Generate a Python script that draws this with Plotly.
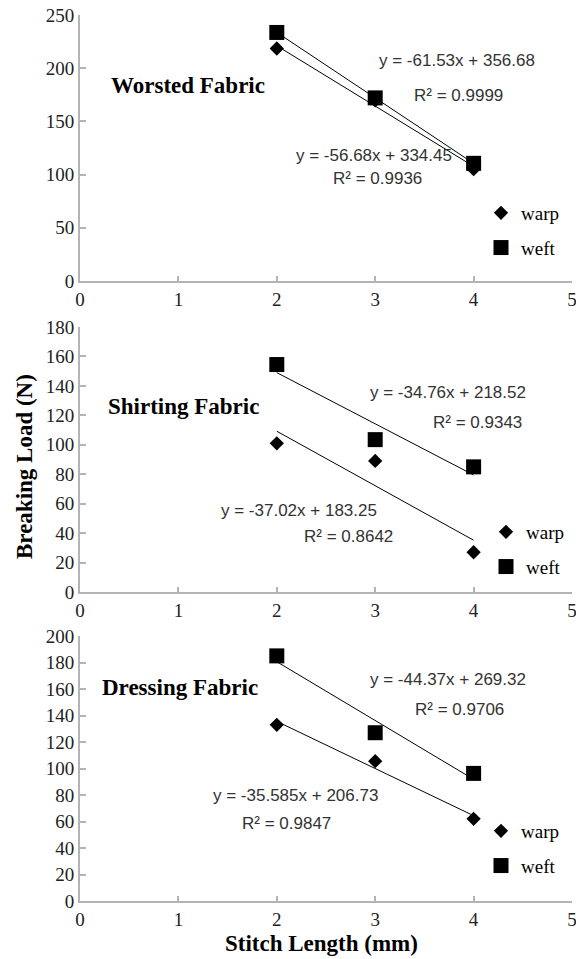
import numpy as np
import plotly.graph_objects as go
from plotly.subplots import make_subplots

# ---------------- data ----------------
stitch_length = [2, 3, 4]

worsted_warp = [218.5, 169.7, 105.1]
worsted_weft = [233.6, 172.1, 110.6]
shirting_warp = [101.0, 89.0, 27.0]
shirting_weft = [154.5, 103.5, 85.0]
dressing_warp = [133.0, 105.5, 62.0]
dressing_weft = [185.0, 127.0, 96.3]

fabric_names = ["Worsted Fabric", "Shirting Fabric", "Dressing Fabric"]
warp_slopes = [-56.68, -37.02, -35.585]
warp_intercepts = [334.45, 183.25, 206.73]
warp_r2 = ["0.9936", "0.8642", "0.9847"]
weft_slopes = [-61.53, -34.76, -44.37]
weft_intercepts = [356.68, 218.52, 269.32]
weft_r2 = ["0.9999", "0.9343", "0.9706"]

y_max = [250, 180, 200]
y_dtick = [50, 20, 20]
x_ticks = [0, 1, 2, 3, 4, 5]

warp_data = [worsted_warp, shirting_warp, dressing_warp]
weft_data = [worsted_weft, shirting_weft, dressing_weft]

# ---------------- figure ----------------
W, H = 576, 959
fig = make_subplots(rows=3, cols=1)

serif = "Liberation Serif, Times New Roman, serif"
sans = "Liberation Sans, Arial, sans-serif"
axis_grey = "#b4b4b4"

# pixel boxes of each plot area (top, bottom)
x_px = (80, 572)
y_px = [(15, 281), (327, 592), (636, 901)]

# annotation placements (data coords): eq weft, r2 weft, eq warp, r2 warp, label
ann_pos = [
    dict(weft_eq=(3.83, 207), weft_r2=(3.85, 174), warp_eq=(2.99, 117.5), warp_r2=(3.02, 96), label=(1.10, 184)),
    dict(weft_eq=(3.74, 135.8), weft_r2=(4.04, 115), warp_eq=(2.23, 55.2), warp_r2=(2.73, 37.6), label=(1.05, 126)),
    dict(weft_eq=(3.74, 166.8), weft_r2=(3.86, 144.7), warp_eq=(2.19, 80), warp_r2=(2.10, 58.6), label=(1.02, 161)),
]
legend_names = ["legend", "legend2", "legend3"]
legend_px = [(481, 194), (486, 513), (481, 812)]

annotations = []
for i in range(3):
    r = i + 1
    xs = np.array(stitch_length, dtype=float)
    xends = np.array([xs.min(), xs.max()])
    # trend lines
    fig.add_trace(go.Scatter(x=xends, y=warp_slopes[i] * xends + warp_intercepts[i], mode="lines",
                             line=dict(color="black", width=1), showlegend=False, hoverinfo="skip"), row=r, col=1)
    fig.add_trace(go.Scatter(x=xends, y=weft_slopes[i] * xends + weft_intercepts[i], mode="lines",
                             line=dict(color="black", width=1), showlegend=False, hoverinfo="skip"), row=r, col=1)
    # markers
    fig.add_trace(go.Scatter(x=stitch_length, y=warp_data[i], mode="markers", name="warp",
                             marker=dict(symbol="diamond", size=11, color="black"),
                             legend=legend_names[i], legendgroup=f"warp{i}"), row=r, col=1)
    fig.add_trace(go.Scatter(x=stitch_length, y=weft_data[i], mode="markers", name="weft",
                             marker=dict(symbol="square", size=15, color="black"),
                             legend=legend_names[i], legendgroup=f"weft{i}"), row=r, col=1)

    xa = "x" if i == 0 else f"x{r}"
    ya = "y" if i == 0 else f"y{r}"
    p = ann_pos[i]

    def eq(m, b):
        return f"y = {m:g}x + {b:g}"

    for key, txt in [("weft_eq", eq(weft_slopes[i], weft_intercepts[i])),
                     ("weft_r2", f"R² = {weft_r2[i]}"),
                     ("warp_eq", eq(warp_slopes[i], warp_intercepts[i])),
                     ("warp_r2", f"R² = {warp_r2[i]}")]:
        annotations.append(dict(x=p[key][0], y=p[key][1], xref=xa, yref=ya, text=txt, showarrow=False,
                                font=dict(family=sans, size=17, color="#333333"),
                                xanchor="center", yanchor="middle"))
    annotations.append(dict(x=p["label"][0], y=p["label"][1], xref=xa, yref=ya, text=f"<b>{fabric_names[i]}</b>",
                            showarrow=False, font=dict(family=serif, size=23, color="black"),
                            xanchor="center", yanchor="middle"))

    top, bot = y_px[i]
    fig.update_yaxes(row=r, col=1, domain=[1 - bot / H, 1 - top / H], range=[0, y_max[i]], dtick=y_dtick[i],
                     showgrid=False, zeroline=False, showline=True, linecolor=axis_grey, linewidth=2,
                     ticks="inside", ticklen=6, tickwidth=1.5, tickcolor=axis_grey, automargin=False,
                     ticklabeloverflow="allow",
                     tickfont=dict(family=serif, size=19, color="#222222"))
    fig.update_xaxes(row=r, col=1, domain=[x_px[0] / W, x_px[1] / W], range=[0, 5], tickvals=x_ticks,
                     showgrid=False, zeroline=False, showline=True, linecolor=axis_grey, linewidth=2,
                     ticks="inside", ticklen=5, tickwidth=1.5, tickcolor=axis_grey, automargin=False,
                     ticklabeloverflow="allow",
                     tickfont=dict(family=serif, size=19, color="#222222"))

# axis titles
annotations.append(dict(x=25 / W, y=1 - 467 / H, xref="paper", yref="paper", text="<b>Breaking Load (N)</b>",
                        textangle=-90, showarrow=False, font=dict(family=serif, size=23, color="black"),
                        xanchor="center", yanchor="middle"))
annotations.append(dict(x=321 / W, y=1 - 943 / H, xref="paper", yref="paper", text="<b>Stitch Length (mm)</b>",
                        showarrow=False, font=dict(family=serif, size=23, color="black"),
                        xanchor="center", yanchor="middle"))

legend_style = dict(bgcolor="rgba(0,0,0,0)", borderwidth=0, font=dict(family=serif, size=19, color="black"),
                    tracegroupgap=7, xanchor="left", yanchor="top")
layout_legends = {}
for name, (lx, ly) in zip(legend_names, legend_px):
    layout_legends[name] = dict(legend_style, x=lx / W, y=1 - ly / H)

fig.update_layout(
    width=W, height=H,
    margin=dict(l=0, r=0, t=0, b=0, autoexpand=False),
    paper_bgcolor="white", plot_bgcolor="white",
    annotations=annotations,
    **layout_legends,
)

fig.write_html("out.html")
